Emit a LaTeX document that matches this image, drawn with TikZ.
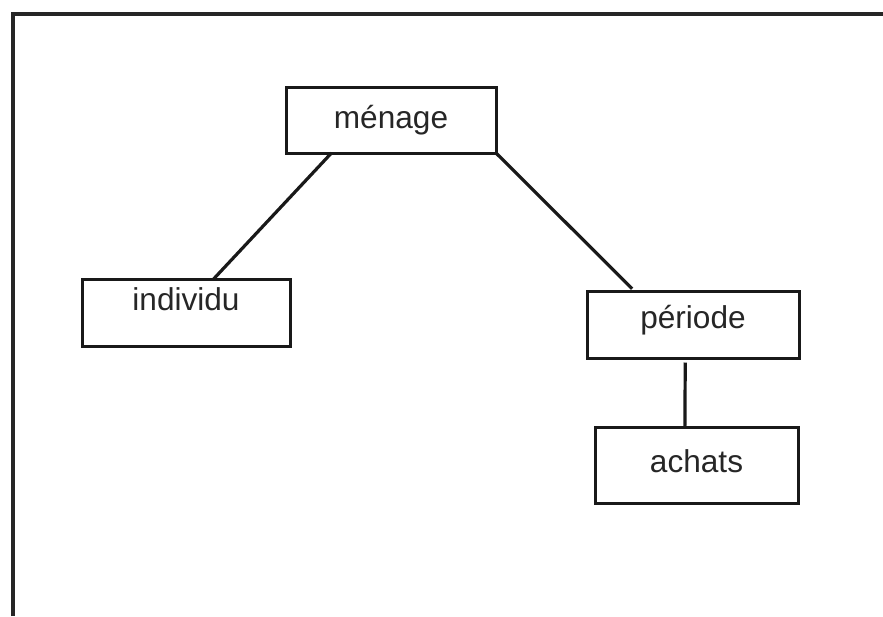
\documentclass[tikz,border=0pt]{standalone}
\usepackage{fontspec}
\setmainfont{Liberation Sans}
\usepackage{tikz}
\usetikzlibrary{positioning}

\begin{document}
\begin{tikzpicture}[%
    x=0.5pt, y=-0.5pt,
    box/.style={draw=black!90,rectangle,line width=1.5pt,outer sep=0pt,
        text=black!85,font=\fontsize{15.8}{19}\selectfont},
    lien/.style={draw=black!90,line width=1.6pt}
]
\useasboundingbox (0,0) rectangle (883,616);

% ---------------- Frame ----------------
\draw[black!85,line width=2pt] (13,616) -- (13,14) -- (883,14);

% ---------------- Entities ----------------
\node[box,minimum width=105pt,minimum height=33pt] (menage) at (391,120) {ménage};
\node[box,minimum width=104pt,minimum height=33.5pt,text depth=14pt] (individu) at (186,313) {individu};
\node[box,minimum width=106pt,minimum height=33.5pt,text depth=8pt] (periode) at (693,325) {période};
\node[box,minimum width=101.5pt,minimum height=38pt,text depth=4pt] (achats) at (696.5,465) {achats};

% ---------------- Links ----------------
\draw[lien] (menage.209) -- (individu.51);
\draw[lien,shorten >=2pt] (menage.south east) -- (periode.150);
\draw[lien,shorten <=2pt] (periode.257) -- (achats.107);

\end{tikzpicture}
\end{document}
